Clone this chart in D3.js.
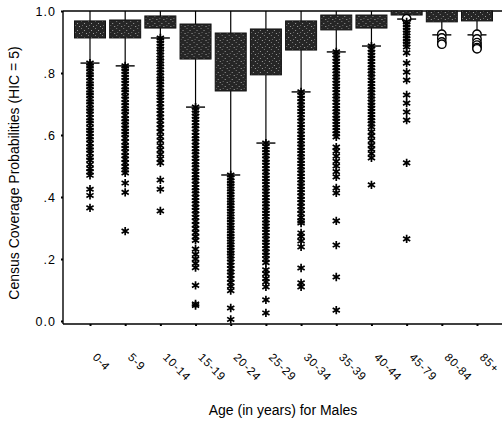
<!DOCTYPE html>
<html>
<head>
<meta charset="utf-8">
<script src="https://cdn.jsdelivr.net/npm/d3@7"></script>
<style>
  body { margin: 0; background: #fff; }
  svg { display: block; font-family: 'Liberation Sans', Arial, sans-serif; }
</style>
</head>
<body>
<div id="chart"></div>
<script>
// age groups along the x axis
const ages = ['0-4', '5-9', '10-14', '15-19', '20-24', '25-29', '30-34', '35-39', '40-44', '45-79', '80-84', '85+'];

// box plot summary
const boxTop = [0.968, 0.971, 0.984, 0.958, 0.929, 0.942, 0.968, 0.987, 0.987, 1.0, 1.0, 1.0];
const boxBottom = [0.913, 0.913, 0.945, 0.845, 0.742, 0.794, 0.874, 0.939, 0.945, 0.987, 0.965, 0.968];
const whiskerLow = [0.832, 0.823, 0.913, 0.69, 0.471, 0.574, 0.739, 0.868, 0.887, 0.974, 0.923, 0.923];
const whiskerHigh = [1, 1, 1, 1, 1, 1, 1, 1, 1, 1, 1, 1];

// extreme values (asterisks)
const starOutliers = [
    [0.832, 0.822, 0.815, 0.803, 0.795, 0.786, 0.774, 0.765, 0.757, 0.745, 0.736, 0.728, 0.716, 0.707, 0.698, 0.686, 0.678, 0.667, 0.655, 0.646, 0.637, 0.624, 0.615, 0.606, 0.594, 0.585, 0.573, 0.561, 0.552, 0.541, 0.528, 0.519, 0.505, 0.492, 0.481, 0.47, 0.425, 0.405, 0.365],
    [0.823, 0.814, 0.806, 0.795, 0.786, 0.776, 0.767, 0.755, 0.746, 0.737, 0.725, 0.716, 0.704, 0.695, 0.684, 0.676, 0.664, 0.652, 0.643, 0.632, 0.622, 0.611, 0.602, 0.59, 0.578, 0.566, 0.557, 0.545, 0.533, 0.522, 0.51, 0.498, 0.487, 0.478, 0.445, 0.415, 0.29],
    [0.913, 0.905, 0.896, 0.886, 0.877, 0.868, 0.858, 0.848, 0.839, 0.829, 0.82, 0.81, 0.801, 0.79, 0.781, 0.772, 0.762, 0.752, 0.741, 0.732, 0.722, 0.712, 0.701, 0.69, 0.68, 0.668, 0.658, 0.646, 0.634, 0.622, 0.61, 0.595, 0.582, 0.566, 0.552, 0.538, 0.523, 0.51, 0.455, 0.425, 0.355],
    [0.69, 0.68, 0.671, 0.66, 0.651, 0.64, 0.63, 0.62, 0.609, 0.598, 0.588, 0.578, 0.567, 0.556, 0.546, 0.536, 0.525, 0.514, 0.504, 0.494, 0.483, 0.472, 0.462, 0.452, 0.441, 0.43, 0.42, 0.41, 0.399, 0.388, 0.378, 0.367, 0.356, 0.345, 0.334, 0.322, 0.31, 0.298, 0.285, 0.272, 0.26, 0.232, 0.215, 0.2, 0.186, 0.172, 0.115, 0.055, 0.05],
    [0.471, 0.462, 0.452, 0.444, 0.435, 0.426, 0.417, 0.408, 0.399, 0.39, 0.381, 0.372, 0.363, 0.354, 0.345, 0.336, 0.327, 0.318, 0.309, 0.3, 0.291, 0.282, 0.273, 0.264, 0.255, 0.246, 0.237, 0.228, 0.219, 0.21, 0.2, 0.19, 0.18, 0.168, 0.158, 0.148, 0.136, 0.124, 0.112, 0.098, 0.042, 0.005],
    [0.574, 0.563, 0.553, 0.543, 0.533, 0.522, 0.512, 0.502, 0.491, 0.481, 0.47, 0.46, 0.45, 0.44, 0.429, 0.419, 0.409, 0.398, 0.388, 0.378, 0.368, 0.357, 0.347, 0.337, 0.326, 0.316, 0.306, 0.296, 0.285, 0.275, 0.264, 0.254, 0.244, 0.233, 0.222, 0.212, 0.2, 0.188, 0.165, 0.152, 0.137, 0.126, 0.11, 0.068, 0.026],
    [0.739, 0.728, 0.718, 0.707, 0.697, 0.686, 0.676, 0.666, 0.655, 0.645, 0.634, 0.624, 0.613, 0.603, 0.592, 0.582, 0.571, 0.561, 0.55, 0.54, 0.529, 0.519, 0.508, 0.498, 0.487, 0.477, 0.466, 0.456, 0.445, 0.435, 0.424, 0.414, 0.403, 0.392, 0.381, 0.37, 0.358, 0.346, 0.334, 0.322, 0.316, 0.284, 0.272, 0.258, 0.239, 0.171, 0.123, 0.11],
    [0.868, 0.858, 0.848, 0.838, 0.828, 0.817, 0.807, 0.797, 0.787, 0.777, 0.767, 0.757, 0.747, 0.736, 0.726, 0.716, 0.706, 0.695, 0.685, 0.675, 0.664, 0.654, 0.644, 0.634, 0.624, 0.614, 0.604, 0.594, 0.561, 0.548, 0.532, 0.515, 0.5, 0.482, 0.465, 0.429, 0.413, 0.323, 0.245, 0.142, 0.035],
    [0.887, 0.877, 0.867, 0.857, 0.847, 0.837, 0.827, 0.817, 0.807, 0.797, 0.787, 0.776, 0.766, 0.756, 0.746, 0.736, 0.726, 0.716, 0.706, 0.696, 0.686, 0.676, 0.666, 0.656, 0.646, 0.636, 0.626, 0.61, 0.597, 0.582, 0.567, 0.554, 0.54, 0.526, 0.439],
    [0.965, 0.956, 0.947, 0.938, 0.929, 0.92, 0.911, 0.902, 0.893, 0.884, 0.865, 0.832, 0.803, 0.777, 0.729, 0.703, 0.674, 0.648, 0.51, 0.265],
    [],
    []
];

// outliers (circles)
const circleOutliers = [
    [], [], [], [], [], [], [], [], [],
    [0.975],
    [0.925, 0.913, 0.9, 0.893],
    [0.925, 0.91, 0.898, 0.89, 0.882, 0.878]
];

const yTicks = [0, 0.2, 0.4, 0.6, 0.8, 1.0];

const width = 502;
const height = 423;

const svg = d3.select('#chart')
    .append('svg')
    .attr('width', width)
    .attr('height', height);

// speckled fill like the scanned boxes
const pat = svg.append('defs').append('pattern')
    .attr('id', 'speckle')
    .attr('patternUnits', 'userSpaceOnUse')
    .attr('width', 7)
    .attr('height', 7);
pat.append('rect').attr('width', 7).attr('height', 7).attr('fill', '#262626');
pat.append('rect').attr('x', 1).attr('y', 2).attr('width', 1).attr('height', 1).attr('fill', '#9a9a9a');
pat.append('rect').attr('x', 5).attr('y', 0).attr('width', 1).attr('height', 1).attr('fill', '#7a7a7a');
pat.append('rect').attr('x', 3).attr('y', 5).attr('width', 1).attr('height', 1).attr('fill', '#a0a0a0');
pat.append('rect').attr('x', 6).attr('y', 4).attr('width', 1).attr('height', 1).attr('fill', '#6a6a6a');

const plot = { left: 63, top: 11, right: 502, bottom: 324 };

const xScale = d3.scalePoint()
    .domain(ages)
    .range([90, 477]);

const yScale = d3.scaleLinear()
    .domain([0, 1])
    .range([321, 11]);

const boxW = 31;
const capW = 19;

// frame: top line
svg.append('line')
    .attr('x1', plot.left).attr('x2', plot.right)
    .attr('y1', plot.top).attr('y2', plot.top)
    .attr('stroke', '#000').attr('stroke-width', 1.4);

// y axis
const yAxis = svg.append('g')
    .attr('transform', `translate(${plot.left}, 0)`)
    .call(d3.axisLeft(yScale)
        .tickValues(yTicks)
        .tickSize(2)
        .tickPadding(5)
        .tickFormat((d) => d === 0 ? '0.0' : d === 1 ? '1.0' : d3.format('.1f')(d).replace(/^0/, '')));
yAxis.select('.domain').attr('d', `M0,${plot.top}V${plot.bottom}`).attr('stroke-width', 1.4);
yAxis.selectAll('.tick line').attr('stroke-width', 2);
yAxis.selectAll('text')
    .attr('font-size', 12.5)
    .attr('letter-spacing', 1)
    .attr('fill', '#000');

// x axis
const xAxis = svg.append('g')
    .attr('transform', `translate(0, ${plot.bottom})`)
    .call(d3.axisBottom(xScale).tickSize(2).tickFormat(''));
xAxis.select('.domain').attr('d', `M${plot.left},0H${plot.right}`).attr('stroke-width', 1.4);
xAxis.selectAll('.tick line').attr('stroke-width', 2);

// rotated age labels
svg.append('g')
    .selectAll('text')
    .data(ages)
    .join('text')
    .attr('transform', (d) => `translate(${xScale(d) + 2}, ${plot.bottom + 34}) rotate(45)`)
    .attr('font-size', 11.5)
    .attr('letter-spacing', 0.8)
    .attr('fill', '#000')
    .text((d) => d);

// axis titles
svg.append('text')
    .attr('transform', `translate(19, 173) rotate(-90)`)
    .attr('text-anchor', 'middle')
    .attr('font-size', 14)
    .attr('fill', '#000')
    .text('Census Coverage Probabilities (HIC = 5)');

svg.append('text')
    .attr('x', 283)
    .attr('y', 415)
    .attr('text-anchor', 'middle')
    .attr('font-size', 14)
    .attr('fill', '#000')
    .text('Age (in years) for Males');

// boxes
const groups = svg.append('g')
    .selectAll('g')
    .data(ages.map((a, i) => ({
        age: a,
        top: boxTop[i],
        bottom: boxBottom[i],
        low: whiskerLow[i],
        high: whiskerHigh[i],
        stars: starOutliers[i],
        circles: circleOutliers[i]
    })))
    .join('g')
    .attr('transform', (d) => `translate(${xScale(d.age)}, 0)`);

// whiskers
groups.append('line')
    .attr('y1', (d) => yScale(d.high)).attr('y2', (d) => yScale(d.top))
    .attr('stroke', '#000').attr('stroke-width', 1.2);
groups.append('line')
    .attr('y1', (d) => yScale(d.bottom)).attr('y2', (d) => yScale(d.low))
    .attr('stroke', '#000').attr('stroke-width', 1.2);
groups.append('line')
    .attr('x1', -capW / 2).attr('x2', capW / 2)
    .attr('y1', (d) => yScale(d.low)).attr('y2', (d) => yScale(d.low))
    .attr('stroke', '#000').attr('stroke-width', 1.4);

groups.append('rect')
    .attr('x', -boxW / 2)
    .attr('width', boxW)
    .attr('y', (d) => yScale(d.top))
    .attr('height', (d) => Math.max(2, yScale(d.bottom) - yScale(d.top)))
    .attr('fill', 'url(#speckle)')
    .attr('stroke', '#111')
    .attr('stroke-width', 1);

// outliers
const star = d3.symbol().type(d3.symbolAsterisk).size(48);

groups.selectAll('circle.out')
    .data((d) => d.circles)
    .join('circle')
    .attr('class', 'out')
    .attr('cy', (v) => yScale(v))
    .attr('r', 4.2)
    .attr('fill', '#fff')
    .attr('stroke', '#000')
    .attr('stroke-width', 1.4);

groups.selectAll('path.star')
    .data((d) => d.stars)
    .join('path')
    .attr('class', 'star')
    .attr('transform', (v) => `translate(0, ${yScale(v)})`)
    .attr('d', star)
    .attr('fill', 'none')
    .attr('stroke', '#000')
    .attr('stroke-width', 1.7);
</script>
</body>
</html>
